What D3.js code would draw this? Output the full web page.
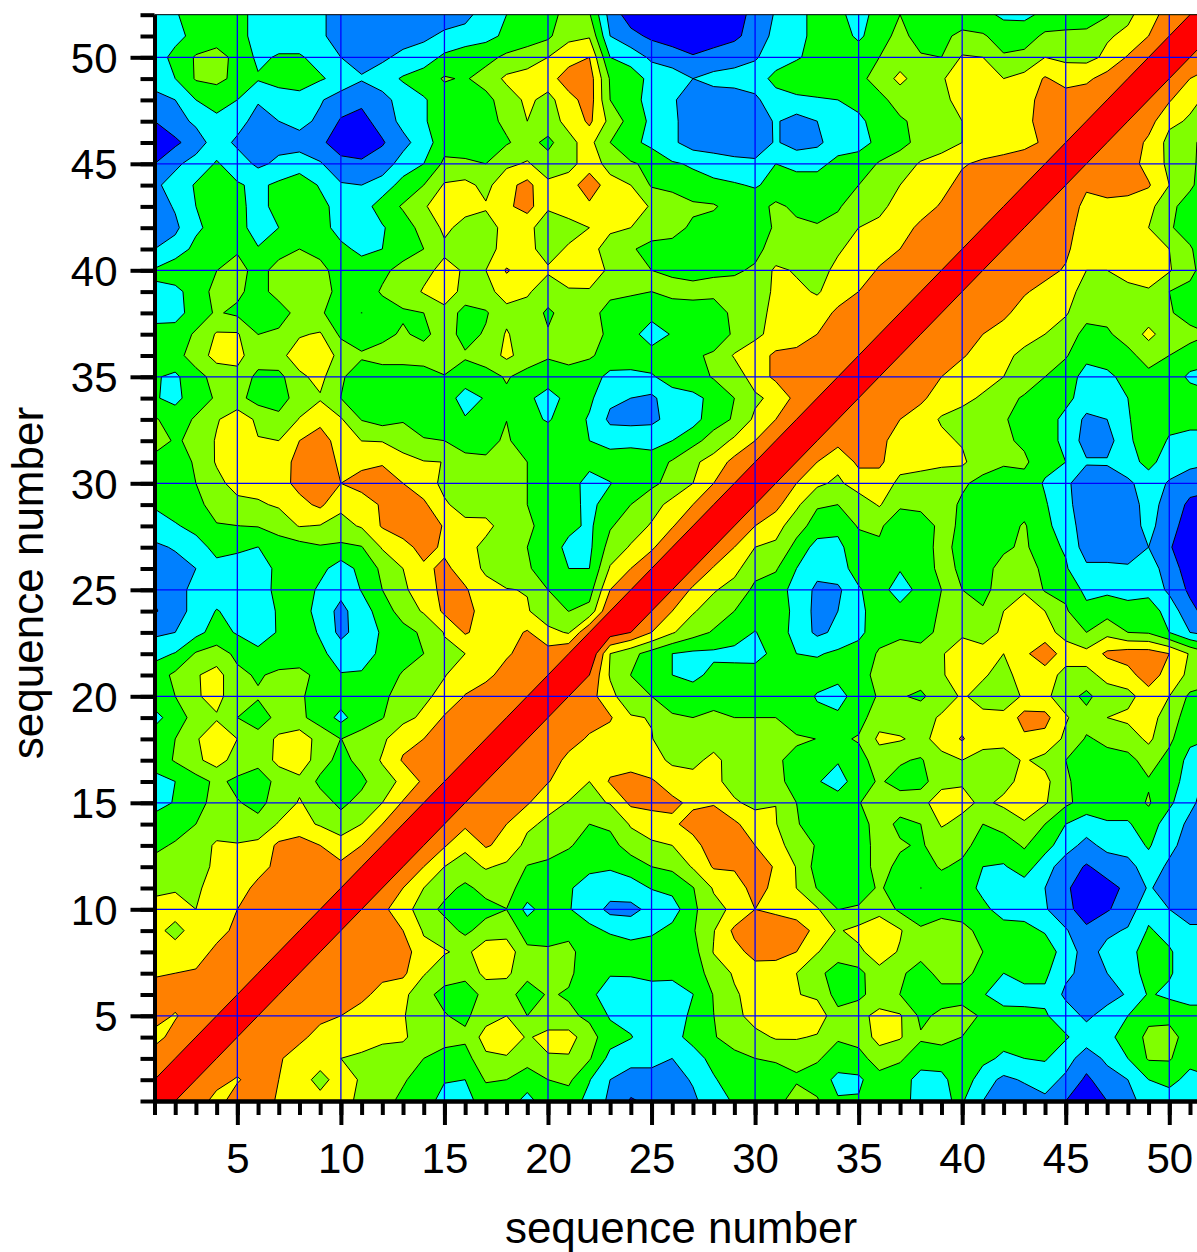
<!DOCTYPE html>
<html><head><meta charset="utf-8">
<style>html,body{margin:0;padding:0;background:#fff;overflow:hidden}svg{display:block}text{font-family:"Liberation Sans",Arial,sans-serif;fill:#000}</style>
<script src="https://cdn.jsdelivr.net/npm/d3@7"></script></head><body><svg id="c" width="1197" height="1252"></svg>
<script>
const axisTitle="sequence number";
const majorTicks=[5,10,15,20,25,30,35,40,45,50];
const minorTicks=d3.range(1,53);
const thresholds=[10,20,30,40,50,60,70];
const bandColors=["#0000ff","#0080ff","#00ffff","#00ff00","#80ff00","#ffff00","#ff8000","#ff0000"];
const diagonal=d3.range(1,53).map(k=>k===22?80:k===23?75:100);
const row1=[];
const row2=[70];
const row3=[66,70];
const row4=[56,64,70];
const row5=[65,59,66,70];
const row6=[64,65,66,67,70];
const row7=[59,60,61,65,65,70];
const row8=[50,54,56,62,65,66,70];
const row9=[53,47,54,57,62,65,66,70];
const row10=[53,54,50,56,60,64,65,66,70];
const row11=[48,49,48,55,55,63,65,67,65,70];
const row12=[43,45,46,52,55,56,63,65,65,62, 70];
const row13=[38,41,43,52,51,53,62,65,60,55, 60,70];
const row14=[36,36,40,43,42,42,51,53,49,44, 50,60,70];
const row15=[25,31,37,43,40.5,38,43,51,44,38, 43,50,61,70];
const row16=[27,30,36,42,38,35,43,47,38,33, 38,46,52,62,70];
const row17=[34,41,48,54,46,43,53,57,44,37, 43,51,61,63,65,70];
const row18=[36,40,49,56,50,44,52,56,46,39.9, 43,48,57,60,64,66,70];
const row19=[26,36,43,49,40,35,43,42,36,27, 36,39.5,47,52,61,65,66,70];
const row20=[37,40,49,53,44,41,42,41,37,35, 36,38,44,48,53,60.5,64,66,70];
const row21=[35,42,49,54,42,39,42,42,38,30.5, 31,35,41,44,49.5,55,58,63,67,70];
const row22=[27,30.5,41,44,38,33,34,36,32,26, 26,32,36,40,48,50,53,59,63,64, 70];
const row23=[18,20,27,34,29,24,31,35,29,17, 25,31,36,42,50.5,61,56,56,61,53, 49,50];
const row24=[9,15,24,30.5,27,25,31,35,26,17, 26,34,45,51,62,64,55,53,51,43, 39.9,43,70];
const row25=[12,15,24,25,25,25,33,36,28,23, 30.5,40,49,53,64,61,54,50.5,49.5,40, 36,36,60,70];
const row26=[15,16,20,27,25,24,33,37,33,25, 33,42,50,58,62,56,48,43,41,36, 30,30,51,60,70];
const row27=[18,21,26,33,32,29.9,34,36,39,38, 39.5,51,56,64,58,54,47,41,40,36, 27,28,44,51,58,70];
const row28=[26,29,33,39.5,39.9,40.5,45,50.5,49.5,47, 51,61,66,67,59,52,53,45,42,36, 33,28,39,45,51,59,70];
const row29=[31,35,38,43,47,49,51,57,62,52, 56,61,63,62,51,47,45,43,40,36, 34,27,35,40,46,53,60,70];
const row30=[37,36,40,47,54,53,56,63,63,60, 63,65,60,54,48,44,43,42,40,36, 36,25,29.5,36,38,43,50,60,70];
const row31=[37,36,41,51,55,55,57,62,66,58, 58,59,53,50.5,49.9,43,41,43,40,36, 36,34,36,36,35,41,48,54,63,70];
const row32=[44,39,42,51,56,50.5,50,60,65,55, 49.9,49.5,46,40.5,40,36,38,41,36,36, 36,30,26,27,26,30,37,44,52,60, 70];
const row33=[41,36,41,49,56,48,43,50.5,57,51, 39.5,36,39,37,36,31,37,39.9,33,29, 35,29,18,17,18,23,26,36,41,52, 60,70];
const row34=[31,27,36,41,43,36,35,45,49,39.9, 36,37,37,36,36,25,31,38,32,26, 33,32,22,20,18,26,28,32,40,48, 53,63,70];
const row35=[31,28,37,43,48,37,37,48,53,41, 36,36,36,36,39.5,36,36,41,36,35, 35,35,27,26,29,34,35,41,44,55, 62,64,65,70];
const row36=[37,37,44,54,52,46,47,55,56,47, 41,43,43,44,45,41,45,52,46,41, 44,41,37,38,35,38,39,41,51,55, 62,63,65,66,70];
const row37=[33,36,41,51,51,39.9,42,49,51,38, 36,38,41,38,44,37,41,51,44,41, 45,44,38,34,24,31,35,36,41,48, 53,55,60,64,65,70];
const row38=[27,25,36,41,38,34,35,44,41,36, 29.9,36,39,40,47,36,39,47,47,38, 45,43,37,36,34,36,37,36,42,46, 53,55,55,62,64,66,70];
const row39=[29,27,35,43,42,36,44,49,44,37, 35,41,44,51,55,47,47,54,51,46, 49,49,42,41,40,42,42,42,43,44, 52,52,49,55,60,64,66,70];
const row40=[31,37,40,39.9,43,37,43,46,42,37, 36,38,43,47,53,49,50,61,55,51, 55,56,48,44,40,39,38,39,39,41, 52,49,47,52,55,61,65,66,70];
const row41=[20,24,33,40,39,31,37,40,38,33, 27,30,36,40,48,45,48,52,52,47, 51,54,45,41,37,36,36,37,37,38, 43,46,47,49,53,56,60,64,66,70];
const row42=[17,18,28,34,36,23,30,36,35,25, 24,29,36,43,52,47,46,53,52,46, 47,50,52,50,45,44,38,36,35,36, 41,42,41,43,50,52,56,62,65,66, 70];
const row43=[15,21,30,37,33,26,34,39,33,26, 25,35,41,49,55,53,51,58,64,51, 54,57,56,55,49,44,42,41,36,36, 42,38,36,39,45,48,53,56,61,65, 66,70];
const row44=[18,24,31,36,31,28,32,36,29,21, 20,24,34,40,51,53,47,57,63,52, 53,69,52,50,39,38,33,32,31,29, 33,35,35,35,40,46,50,54,57,63, 65,66,70];
const row45=[10,18,24,31,25,18,22,25,21,13, 12,15,24,30,42,41,40,48,51,45, 48,53,48,41,38,31,29,26,23,22, 30,27,27,33,34,41,45,51,53,59, 62,63,64,70];
const row46=[5,8,15,25,18,10,17,16,12,5, 3,9,17,25,36,37,36,39,44,37, 48,53,40,33,27,22,15,14,14,14, 21,16,18,25,27,32,37,43,47,50, 53,56,58,61,70];
const row47=[10,16,22,27,24,16,20,23,18,9, 7,14,23,29,35,35,37,42,50,47, 52,62,47,36,28,22,15,14,14,15, 21,16,20,25,28,34,39,42,44,50, 55,56,58,63,65,70];
const row48=[17,20,30,35,30,21,26,27,21,15, 12,16,25,29,35,34,37,45,52,47, 56,65,40,33,27,21,16,15,15,18, 26,28,29,30,33,38,43,44,47,54, 55,56,57,63,65,66,70];
const row49=[24,30,41,42,38,31,33,34,31,27, 21,26,31,35,41,39,44,52,55,55, 66,65,39,35,27,25,20,23,24,25, 33,36,37,38,38,43,53,44,49,55, 55,50,53,61,56,58,64,70];
const row50=[25,33,41,44,37,28,31,31,27,20, 16,18,23,25,32,36,37,42,44,50, 55,60,30,26,18,15,11,14,16,19, 25,29,33,36,36,40,44,41,40,51, 50,41,43,50,48,47,52,61,70];
const row51=[25,27,33,35,33,27,25,25,22,15, 15,15,15,18,22,24,27,32,36,38, 48,49,20,13,8,5,3,5,8,14, 23,28,32,35,28,36,43,36,38,42, 41,36,35,42,42,42,49,52,60,70];
const row52=[25,29,35,35,33,27,25,25,22,15, 15,15,15,15,15,17,25,30,35,38, 42,41,16,5,3,3,3,3,6,13, 21,28,32,33,25,35,40,35,33,35, 33,28,28,32,35,36,39,48,55,65, 70];
const rows=[row1,row2,row3,row4,row5,row6,row7,row8,row9,row10,row11,row12,row13,row14,row15,row16,row17,row18,row19,row20,row21,row22,row23,row24,row25,row26,row27,row28,row29,row30,row31,row32,row33,row34,row35,row36,row37,row38,row39,row40,row41,row42,row43,row44,row45,row46,row47,row48,row49,row50,row51,row52];
// The red ridge stays unbroken where it narrows near (22,23).
const neck={col:22,row:23,value:70};

const n=52, grid=new Array(n*n);
rows.forEach((r,j)=>{r.forEach((v,i)=>{grid[j*n+i]=v;grid[i*n+j]=v;});grid[j*n+j]=diagonal[j];});
grid[(neck.row-1)*n+(neck.col-1)]=neck.value;

const x=d3.scaleLinear().domain([1,52]).range([154.5,1210.7]);
const y=d3.scaleLinear().domain([1,52]).range([1101,14.7]);
const svg=d3.select("#c");
svg.append("defs").append("clipPath").attr("id","plot").append("rect")
  .attr("x",x(1)).attr("y",y(52)).attr("width",x(52)-x(1)).attr("height",y(1)-y(52));
const plot=svg.append("g").attr("clip-path","url(#plot)");
plot.append("rect").attr("x",x(1)).attr("y",y(52)).attr("width",x(52)-x(1)).attr("height",y(1)-y(52)).attr("fill",bandColors[0]);
const gen=d3.contours().size([n,n]);
const path=d3.geoPath(d3.geoTransform({point(a,b){this.stream.point(x(a+0.5),y(b+0.5));}}));
plot.selectAll("path.band").data(thresholds.map(t=>gen.contour(grid,t))).join("path")
  .attr("class","band").attr("d",path)
  .attr("fill",(d,i)=>bandColors[i+1]).attr("stroke","#000").attr("stroke-width",1).attr("stroke-linejoin","round");
plot.selectAll("line.gx").data(majorTicks).join("line").attr("class","gx")
  .attr("x1",d=>x(d)).attr("x2",d=>x(d)).attr("y1",y(1)).attr("y2",y(52)).attr("stroke","#0000ff").attr("stroke-width",1.3);
plot.selectAll("line.gy").data(majorTicks).join("line").attr("class","gy")
  .attr("y1",d=>y(d)).attr("y2",d=>y(d)).attr("x1",x(1)).attr("x2",x(52)).attr("stroke","#0000ff").attr("stroke-width",1.3);

svg.append("line").attr("x1",x(1)).attr("x2",1197).attr("y1",y(52)).attr("y2",y(52)).attr("stroke","#000").attr("stroke-width",1);

function style(g,w){g.selectAll("path.domain").attr("stroke","#000").attr("stroke-width",w);g.selectAll("line").attr("stroke","#000").attr("stroke-width",w);}
const by=y(1), lx=x(1);
svg.append("g").attr("transform",`translate(0,${by})`).call(d3.axisBottom(x).tickValues(minorTicks).tickSize(14).tickSizeOuter(0).tickFormat("")).call(style,4);
svg.append("g").attr("transform",`translate(${lx},0)`).call(d3.axisLeft(y).tickValues(minorTicks).tickSize(14).tickSizeOuter(0).tickFormat("")).call(style,4);
const bx=svg.append("g").attr("transform",`translate(0,${by})`).call(d3.axisBottom(x).tickValues(majorTicks).tickSize(24).tickFormat(d3.format("d")).tickSizeOuter(0)).call(style,4);
bx.selectAll("text").attr("font-size",42).attr("dy",0).attr("y",71.5).attr("text-anchor","middle").style("font-family",'"Liberation Sans",Arial,sans-serif');
const ly=svg.append("g").attr("transform",`translate(${lx},0)`).call(d3.axisLeft(y).tickValues(majorTicks).tickSize(24).tickFormat(d3.format("d")).tickSizeOuter(0)).call(style,4);
ly.selectAll("text").attr("font-size",42).attr("dy","0.36em").attr("x",-37).style("font-family",'"Liberation Sans",Arial,sans-serif');
svg.append("text").attr("x",681).attr("y",1243).attr("text-anchor","middle").attr("font-size",44).text(axisTitle);
svg.append("text").attr("transform","translate(43,583) rotate(-90)").attr("text-anchor","middle").attr("font-size",44).text(axisTitle);
</script></body></html>
